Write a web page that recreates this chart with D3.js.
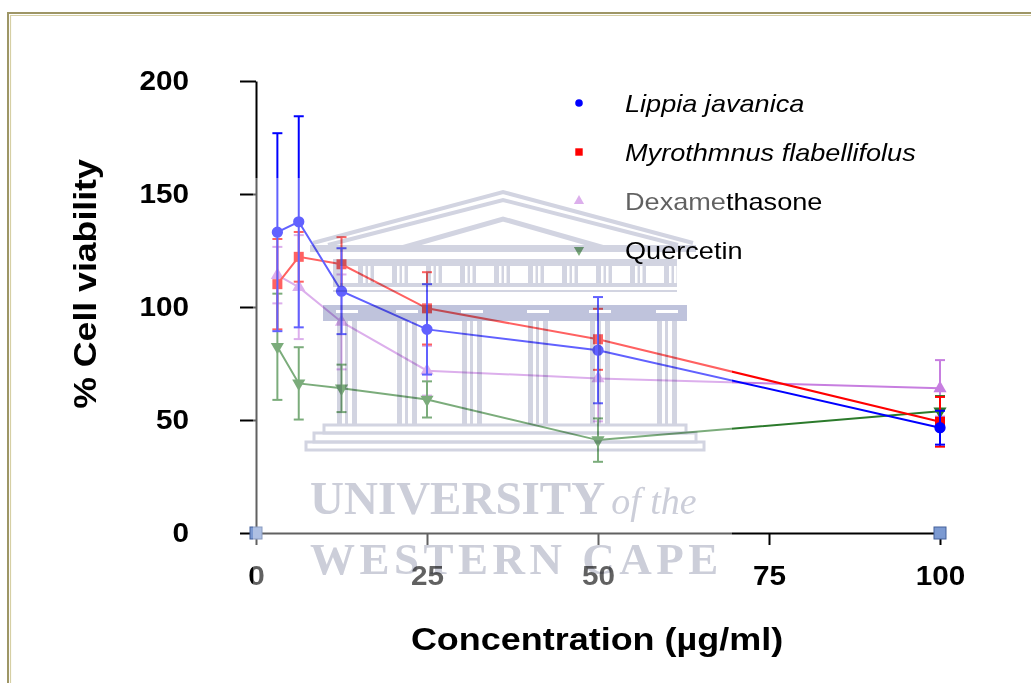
<!DOCTYPE html>
<html>
<head>
<meta charset="utf-8">
<script src="https://cdn.jsdelivr.net/npm/d3@7"></script>
<style>
  html, body { margin: 0; padding: 0; background: #fff; }
  svg { display: block; }
</style>
</head>
<body>
<div id="chart"></div>
<script>
const concentrations = [3.125, 6.25, 12.5, 25, 50, 100];

const lippiaMean = [133.1, 137.7, 107.0, 90.1, 80.9, 46.6];
const lippiaSd = [43.8, 46.7, 19.0, 20.0, 23.5, 7.5];
const myroMean = [110.1, 122.2, 118.9, 99.4, 85.7, 49.2];
const myroSd = [20.0, 11.0, 12.0, 16.0, 13.5, 11.0];
const dexaMean = [114.1, 108.8, 93.4, 71.8, 68.4, 64.0];
const dexaSd = [12.5, 23.0, 21.0, 11.0, 19.0, 12.5];
const querMean = [82.4, 66.2, 64.0, 59.1, 41.1, 53.9];
const querSd = [23.5, 16.0, 10.5, 8.0, 9.6, 6.7];

const axisMarkers = [0, 100];
const xTicks = [0, 25, 50, 75, 100];
const yTicks = [0, 50, 100, 150, 200];

const width = 1031;
const height = 683;
const FONT = "'Liberation Sans', Arial, sans-serif";

const series = [
  { name: 'Dexamethasone', italic: false, color: '#c77ee0', symbol: d3.symbolTriangle, size: 75, rot: 0, mean: dexaMean, sd: dexaSd },
  { name: 'Quercetin', italic: false, color: '#2b7a2b', symbol: d3.symbolTriangle, size: 75, rot: 180, mean: querMean, sd: querSd },
  { name: 'Myrothmnus flabellifolus', italic: true, color: '#ff0000', symbol: d3.symbolSquare, size: 100, rot: 0, mean: myroMean, sd: myroSd },
  { name: 'Lippia javanica', italic: true, color: '#0000ff', symbol: d3.symbolCircle, size: 100, rot: 0, mean: lippiaMean, sd: lippiaSd },
];
const legendOrder = ['Lippia javanica', 'Myrothmnus flabellifolus', 'Dexamethasone', 'Quercetin'];

const svg = d3.select('#chart').append('svg').attr('width', width).attr('height', height);
svg.append('rect').attr('width', width).attr('height', height).attr('fill', '#fff');

// frame (top + left edges visible)
svg.append('path').attr('d', `M8,${height} V13 H${width}`).attr('fill', 'none').attr('stroke', '#9e9666').attr('stroke-width', 2);
svg.append('path').attr('d', `M10.5,${height} V15.5 H${width}`).attr('fill', 'none').attr('stroke', '#d6cfa4').attr('stroke-width', 1.2);

const x = d3.scaleLinear().domain([0, 100]).range([256, 940]);
const y = d3.scaleLinear().domain([0, 200]).range([533, 81]);

// axes
const yAxis = d3.axisLeft(y).tickValues(yTicks).tickSize(16).tickSizeOuter(0);
const xAxis = d3.axisBottom(x).tickValues(xTicks).tickSize(12).tickSizeOuter(0);

const gy = svg.append('g').attr('transform', `translate(${x(0)},0)`).call(yAxis);
const gx = svg.append('g').attr('transform', `translate(0,${y(0)})`).call(xAxis);

[gx, gy].forEach((g) => {
  g.select('.domain').attr('stroke', '#000').attr('stroke-width', 2);
  g.selectAll('.tick line').attr('stroke', '#000').attr('stroke-width', 2);
  g.selectAll('.tick text')
    .attr('fill', '#000')
    .style('font-family', FONT)
    .style('font-weight', 'bold')
    .style('font-size', '27px');
});
gy.selectAll('.tick text').attr('x', -67 / 1.1).attr('transform', 'scale(1.1,1)');
gx.selectAll('.tick text').attr('y', 52).attr('dy', 0).attr('transform', 'scale(1.1,1)');

// axis titles
svg.append('text')
  .attr('transform', 'translate(96,284) rotate(-90) scale(1.15,1)')
  .attr('text-anchor', 'middle')
  .style('font-family', FONT).style('font-weight', 'bold').style('font-size', '31px')
  .text('% Cell viability');

svg.append('text')
  .attr('transform', 'translate(597,650) scale(1.16,1)')
  .attr('text-anchor', 'middle')
  .style('font-family', FONT).style('font-weight', 'bold').style('font-size', '31px')
  .text('Concentration (µg/ml)');

// data
series.forEach((s) => {
  const pts = concentrations.map((c, i) => ({ c, m: s.mean[i], sd: s.sd[i] }));
  const g = svg.append('g');
  g.append('path')
    .datum(pts)
    .attr('fill', 'none')
    .attr('stroke', s.color)
    .attr('stroke-width', 2)
    .attr('d', d3.line().x((d) => x(d.c)).y((d) => y(d.m)));

  const eb = g.selectAll('.eb').data(pts).join('g').attr('class', 'eb');
  eb.append('line')
    .attr('x1', (d) => x(d.c)).attr('x2', (d) => x(d.c))
    .attr('y1', (d) => y(d.m + d.sd)).attr('y2', (d) => y(d.m - d.sd))
    .attr('stroke', s.color).attr('stroke-width', 2);
  [1, -1].forEach((k) => {
    eb.append('line')
      .attr('x1', (d) => x(d.c) - 5).attr('x2', (d) => x(d.c) + 5)
      .attr('y1', (d) => y(d.m + k * d.sd)).attr('y2', (d) => y(d.m + k * d.sd))
      .attr('stroke', s.color).attr('stroke-width', 2);
  });

  g.selectAll('.pt').data(pts).join('path')
    .attr('class', 'pt')
    .attr('d', d3.symbol().type(s.symbol).size(s.size))
    .attr('transform', (d) => `translate(${x(d.c)},${y(d.m)}) rotate(${s.rot})`)
    .attr('fill', s.color);
});

// blue squares on the x axis
svg.selectAll('.axm').data(axisMarkers).join('rect')
  .attr('class', 'axm')
  .attr('x', (d) => x(d) - 6).attr('y', y(0) - 6)
  .attr('width', 12).attr('height', 12)
  .attr('fill', '#7c9ad2').attr('stroke', '#44619a').attr('stroke-width', 1);

// legend
const leg = svg.append('g');
legendOrder.forEach((name, i) => {
  const s = series.find((d) => d.name === name);
  const cy = 103 + i * 49;
  leg.append('path')
    .attr('d', d3.symbol().type(s.symbol).size(s.symbol === d3.symbolSquare ? 55 : 45))
    .attr('transform', `translate(579,${cy}) rotate(${s.rot})`)
    .attr('fill', s.color);
  leg.append('text')
    .attr('transform', `translate(625,${cy + 9}) scale(1.13,1)`)
    .style('font-family', FONT).style('font-size', '24px')
    .style('font-style', s.italic ? 'italic' : 'normal')
    .attr('fill', '#000')
    .text(name);
});

// university watermark
const wm = svg.append('g');
wm.append('path')
  .attr('d', 'M253,178 H727 V232 H618 V268 H732 V590 H253 Z')
  .attr('fill', '#fff').attr('opacity', 0.38);
const b = wm.append('g').style('mix-blend-mode', 'multiply');
const wc = '#d2d4e1';
const wd = '#bfc3dc';
b.append('path').attr('d', 'M313,243 L503,192 L693,243').attr('fill', 'none').attr('stroke', wc).attr('stroke-width', 4);
b.append('path').attr('d', 'M328,245 L503,200 L678,245').attr('fill', 'none').attr('stroke', wc).attr('stroke-width', 4);
b.append('path').attr('d', 'M398,249 L503,219 L608,249').attr('fill', 'none').attr('stroke', wc).attr('stroke-width', 5);
b.append('rect').attr('x', 310).attr('y', 245).attr('width', 386).attr('height', 7).attr('fill', wc);
b.append('rect').attr('x', 333).attr('y', 259).attr('width', 344).attr('height', 33).attr('fill', wc);
for (let i = 0; i < 10; i++) {
  const x0 = 340 + i * 34;
  b.append('rect').attr('x', x0).attr('y', 266).attr('width', 18).attr('height', 17).attr('fill', '#fff');
  b.append('rect').attr('x', x0 + 23).attr('y', 266).attr('width', 2.5).attr('height', 17).attr('fill', '#fff');
  b.append('rect').attr('x', x0 + 28).attr('y', 266).attr('width', 2.5).attr('height', 17).attr('fill', '#fff');
}
b.append('rect').attr('x', 333).attr('y', 287).attr('width', 344).attr('height', 3).attr('fill', '#fff');
b.append('rect').attr('x', 323).attr('y', 305).attr('width', 364).attr('height', 16).attr('fill', wd);
[347, 407, 472, 538, 600, 667].forEach((cx) => {
  b.append('rect').attr('x', cx - 11).attr('y', 310).attr('width', 22).attr('height', 3).attr('fill', '#fff');
  b.append('rect').attr('x', cx - 10).attr('y', 321).attr('width', 5).attr('height', 104).attr('fill', wc);
  b.append('rect').attr('x', cx - 2).attr('y', 321).attr('width', 3).attr('height', 104).attr('fill', wc);
  b.append('rect').attr('x', cx + 5).attr('y', 321).attr('width', 5).attr('height', 104).attr('fill', wc);
});
b.append('rect').attr('x', 324).attr('y', 425).attr('width', 362).attr('height', 8).attr('fill', 'none').attr('stroke', wc).attr('stroke-width', 3);
b.append('rect').attr('x', 314).attr('y', 433).attr('width', 382).attr('height', 9).attr('fill', 'none').attr('stroke', wc).attr('stroke-width', 3);
b.append('rect').attr('x', 306).attr('y', 442).attr('width', 398).attr('height', 8).attr('fill', 'none').attr('stroke', wc).attr('stroke-width', 3);

const serif = "'Liberation Serif', 'DejaVu Serif', serif";
const wt = b.append('text').attr('x', 310).attr('y', 514)
  .style('font-family', serif).style('font-size', '47px').style('font-weight', 'bold')
  .attr('fill', '#ccced9');
wt.append('tspan').text('UNIVERSITY');
wt.append('tspan').attr('dx', 6).style('font-style', 'italic').style('font-weight', 'normal').style('font-size', '38px').text('of the');
b.append('text').attr('x', 310).attr('y', 574)
  .style('font-family', serif).style('font-size', '45px').style('font-weight', 'bold')
  .style('letter-spacing', '4.5px')
  .attr('fill', '#ccced9')
  .text('WESTERN CAPE');
</script>
</body>
</html>
